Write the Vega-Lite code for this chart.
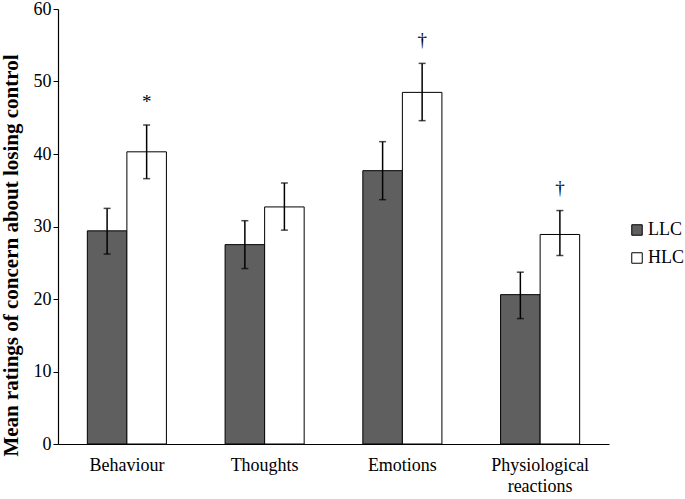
{
  "$schema": "https://vega.github.io/schema/vega-lite/v6.json",
  "autosize": "none",
  "width": 551,
  "height": 435,
  "padding": {"left": 58, "top": 9, "right": 76, "bottom": 55},
  "background": "white",
  "config": {
    "view": {"stroke": null},
    "font": "Liberation Serif",
    "axis": {"labelFont": "Liberation Serif", "titleFont": "Liberation Serif", "labelColor": "black", "titleColor": "black", "domainColor": "black", "tickColor": "black", "grid": false},
    "legend": {"labelFont": "Liberation Serif", "labelColor": "black"}
  },
  "data": {
    "values": [
      {"category": "Behaviour", "group": "LLC", "mean": 29.4, "lo": 26.2, "hi": 32.5, "sig": ""},
      {"category": "Behaviour", "group": "HLC", "mean": 40.3, "lo": 36.6, "hi": 44.0, "sig": "*"},
      {"category": "Thoughts", "group": "LLC", "mean": 27.5, "lo": 24.2, "hi": 30.8, "sig": ""},
      {"category": "Thoughts", "group": "HLC", "mean": 32.7, "lo": 29.5, "hi": 36.0, "sig": ""},
      {"category": "Emotions", "group": "LLC", "mean": 37.7, "lo": 33.7, "hi": 41.7, "sig": ""},
      {"category": "Emotions", "group": "HLC", "mean": 48.5, "lo": 44.6, "hi": 52.5, "sig": "†"},
      {"category": "Physiological reactions", "group": "LLC", "mean": 20.6, "lo": 17.3, "hi": 23.7, "sig": ""},
      {"category": "Physiological reactions", "group": "HLC", "mean": 28.9, "lo": 26.0, "hi": 32.2, "sig": "†"}
    ]
  },
  "encoding": {
    "x": {
      "field": "category", "type": "nominal", "sort": null,
      "scale": {"paddingInner": 0.426, "paddingOuter": 0.213},
      "axis": {"title": null, "labelAngle": 0, "ticks": false, "labelFontSize": 18, "labelPadding": 12, "labelExpr": "split(datum.label, ' ')", "labelLineHeight": 21, "labelOverlap": false, "domainWidth": 1.2}
    },
    "xOffset": {"field": "group", "type": "nominal", "sort": ["LLC", "HLC"]}
  },
  "layer": [
    {
      "mark": {"type": "bar", "stroke": "black", "strokeWidth": 1},
      "encoding": {
        "y": {
          "field": "mean", "type": "quantitative",
          "scale": {"domain": [0, 60], "nice": false},
          "axis": {"title": "Mean ratings of concern about losing control", "titleFontSize": 21, "titleFontWeight": "bold", "titleX": -37, "titleY": 246, "titleBaseline": "bottom", "titleAngle": -90, "titleAlign": "center", "labelFontSize": 18, "labelOverlap": false, "tickSize": 5, "values": [0, 10, 20, 30, 40, 50, 60], "labelPadding": 2, "domainWidth": 1.2}
        },
        "fill": {
          "field": "group", "type": "nominal", "sort": ["LLC", "HLC"],
          "scale": {"domain": ["LLC", "HLC"], "range": ["#5f5f5f", "#ffffff"]},
          "legend": {"title": null, "orient": "none", "legendX": 570, "legendY": 212, "labelFontSize": 18, "symbolType": "square", "symbolSize": 110, "symbolStrokeColor": "black", "symbolStrokeWidth": 1, "rowPadding": 10, "labelOffset": 2, "padding": 0}
        }
      }
    },
    {
      "mark": {"type": "rule", "color": "black", "strokeWidth": 1.5},
      "encoding": {
        "y": {"field": "lo", "type": "quantitative"},
        "y2": {"field": "hi"}
      }
    },
    {
      "mark": {"type": "tick", "color": "black", "size": 7, "thickness": 1.5},
      "encoding": {"y": {"field": "lo", "type": "quantitative"}}
    },
    {
      "mark": {"type": "tick", "color": "black", "size": 7, "thickness": 1.5},
      "encoding": {"y": {"field": "hi", "type": "quantitative"}}
    },
    {
      "mark": {"type": "text", "color": "black", "fontSize": 19, "baseline": "middle", "dy": -23, "font": "Liberation Serif"},
      "encoding": {
        "y": {"field": "hi", "type": "quantitative"},
        "text": {"field": "sig"}
      }
    }
  ]
}
